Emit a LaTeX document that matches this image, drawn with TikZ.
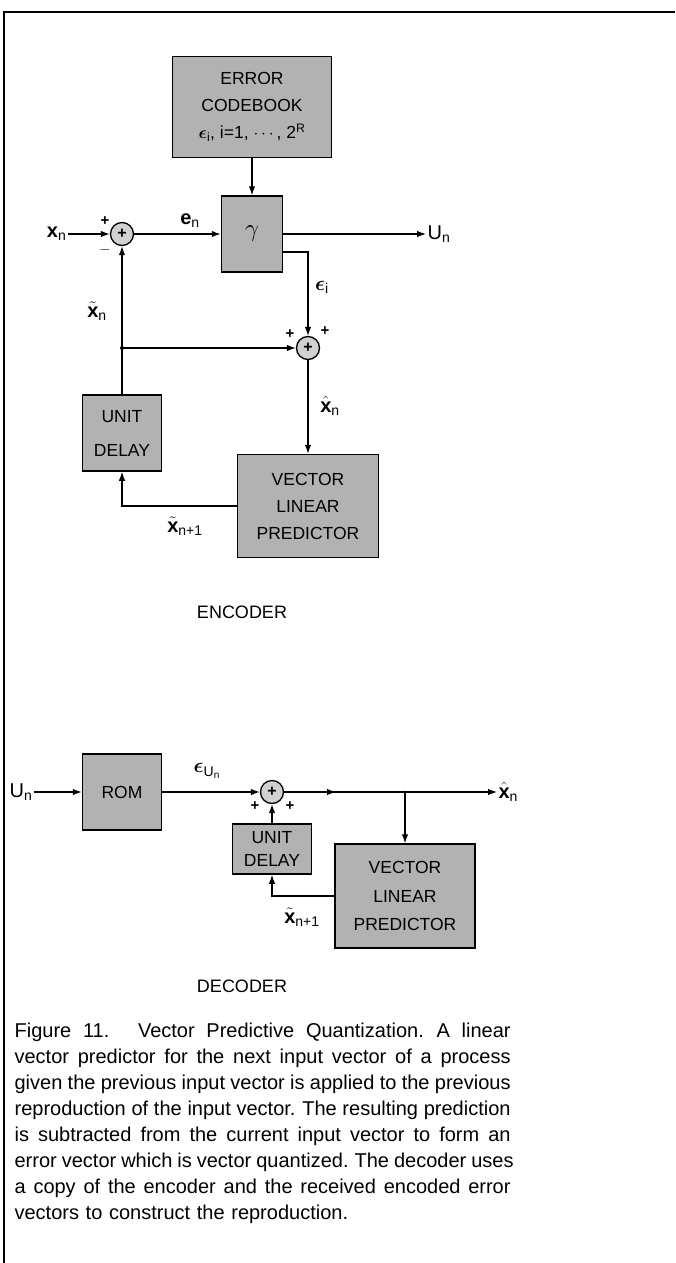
\documentclass[tikz,border=0pt]{standalone}
\usepackage{amsmath,amssymb}
\usepackage{fontspec}
\setmainfont{Liberation Sans}
\usetikzlibrary{positioning, arrows.meta, calc}

% one justified caption line
\newcommand{\capline}[1]{\leavevmode\hbox to 496pt{\spaceskip=0.25em plus 1fil\relax\xspaceskip=0.3em plus 1fil\relax #1}}

\begin{document}
\begin{tikzpicture}[
    x=1pt, y=-1pt, line width=1.2pt,
    blockbox/.style={draw, rectangle, line width=1.5pt, fill=black!30, align=center, inner sep=0pt, font=\fontsize{17.5}{27}\selectfont},
    sumnode/.style={draw, circle, line width=1.3pt, fill=black!18, minimum size=23pt, inner sep=0pt, font=\bfseries\fontsize{16}{16}\selectfont},
    arrow/.style={-{Latex[length=9pt,width=6.5pt]}},
    siglabel/.style={font=\fontsize{20}{22}\selectfont, inner sep=1pt},
    sign/.style={font=\bfseries\fontsize{15}{15}\selectfont, inner sep=0pt},
    title/.style={font=\fontsize{18}{20}\selectfont}
]
    \useasboundingbox (0,0) rectangle (675,1263);

    % ================= FRAME =================
    \draw[line width=1.6pt] (4,1263) -- (4,12) -- (675,12);

    % ================= ENCODER =================
    \node[blockbox, minimum width=159pt, minimum height=101pt] (codebook) at (252,107) {ERROR\\CODEBOOK\\$\boldsymbol{\epsilon}_{\text{i}}$, i=1, $\cdots$, 2$^{\text{R}}$};
    \node[blockbox, minimum width=61pt, minimum height=76pt] (gamma) at (252,234) {\fontsize{24}{24}\selectfont$\gamma$};
    \node[sumnode] (sum1) at (122,234) {+};
    \node[blockbox, minimum width=79pt, minimum height=76pt, font=\fontsize{17.5}{34}\selectfont] (delay1) at (122,433) {UNIT\\DELAY};
    \node[sumnode] (sum2) at (308,348) {+};
    \node[blockbox, minimum width=141pt, minimum height=103pt] (vlp1) at (308,506) {VECTOR\\LINEAR\\PREDICTOR};
    \coordinate (tap1) at (122,348);

    \node[siglabel, anchor=east] (xn) at (68,234) {$\mathbf{x}_{\text{n}}$};
    \node[siglabel, anchor=west] (un1) at (426,234) {U\textsubscript{n}};

    \draw[arrow] (xn) -- (sum1);
    \draw[arrow] (sum1) -- (gamma);
    \draw[arrow] (codebook) -- (gamma);
    \draw[arrow] (gamma) -- (un1);
    \draw[arrow] ([yshift=-18pt]gamma.east) -| (sum2);
    \draw[arrow] (tap1) -- (sum2);
    \draw[arrow] (delay1) -- (sum1);
    \draw[arrow] (sum2) -- (vlp1);
    \draw[arrow] (vlp1.west) -| (delay1.south);
    \fill (tap1) circle (2pt);

    \node[sign] at (105,221) {+};
    \node[sign] at (105,250) {$-$};
    \node[siglabel] at (190,221) {$\mathbf{e}_{\text{n}}$};
    \node[siglabel] at (322,287) {$\boldsymbol{\epsilon}_{\text{i}}$};
    \node[siglabel] at (97,311) {$\tilde{\mathbf{x}}_{\text{n}}$};
    \node[sign] at (290,334) {+};
    \node[sign] at (325,331) {+};
    \node[siglabel] at (330,406) {$\hat{\mathbf{x}}_{\text{n}}$};
    \node[siglabel] at (185,526) {$\tilde{\mathbf{x}}_{\text{n+1}}$};
    \node[title] (enc) at (242,612) {ENCODER};

    % ================= DECODER =================
    \node[blockbox, minimum width=79pt, minimum height=76pt] (rom) at (122,792) {ROM};
    \node[sumnode] (sum3) at (272,792) {+};
    \node[blockbox, minimum width=79pt, minimum height=50pt, font=\fontsize{17.5}{23}\selectfont] (delay2) at (272,849) {UNIT\\DELAY};
    \node[blockbox, minimum width=140pt, minimum height=104pt, font=\fontsize{17.5}{28.5}\selectfont] (vlp2) at (405,896) {VECTOR\\LINEAR\\PREDICTOR};
    \coordinate (mid2) at (336,792);
    \coordinate (tap2) at (405,792);

    \node[siglabel, anchor=west] (un2) at (8,792) {U\textsubscript{n}};
    \node[siglabel, anchor=west, xshift=3pt] (xhat2) at (494,792) {$\hat{\mathbf{x}}_{\text{n}}$};

    \draw[arrow] (un2) -- (rom);
    \draw[arrow] (rom) -- (sum3);
    \draw[arrow] (sum3) -- (xhat2);
    \draw[arrow] (sum3) -- (mid2);
    \draw[arrow] (tap2) -- (vlp2);
    \draw[arrow] (delay2) -- (sum3);
    \draw[arrow] (vlp2.west) -| (delay2.south);
    \fill (tap2) circle (1.5pt);

    \node[siglabel] at (207,771) {$\boldsymbol{\epsilon}_{\text{U}_{\text{n}}}$};
    \node[sign] at (255,806) {+};
    \node[sign] at (290,806) {+};
    \node[siglabel] at (302,917) {$\tilde{\mathbf{x}}_{\text{n+1}}$};
    \node[title] (dec) at (242,986) {DECODER};

    % ================= CAPTION =================
    \node[anchor=base west, text width=496pt, align=left, inner sep=0pt, font=\fontsize{20}{26}\selectfont] (caption) at (14,1037) {%
        \capline{Figure 11.\hspace{0.8em} Vector Predictive Quantization. A linear}\\
        \capline{vector predictor for the next input vector of a process}\\
        \capline{given the previous input vector is applied to the previous}\\
        \capline{reproduction of the input vector. The resulting prediction}\\
        \capline{is subtracted from the current input vector to form an}\\
        \capline{error vector which is vector quantized. The decoder uses}\\
        \capline{a copy of the encoder and the received encoded error}\\
        vectors to construct the reproduction.};

\end{tikzpicture}
\end{document}
